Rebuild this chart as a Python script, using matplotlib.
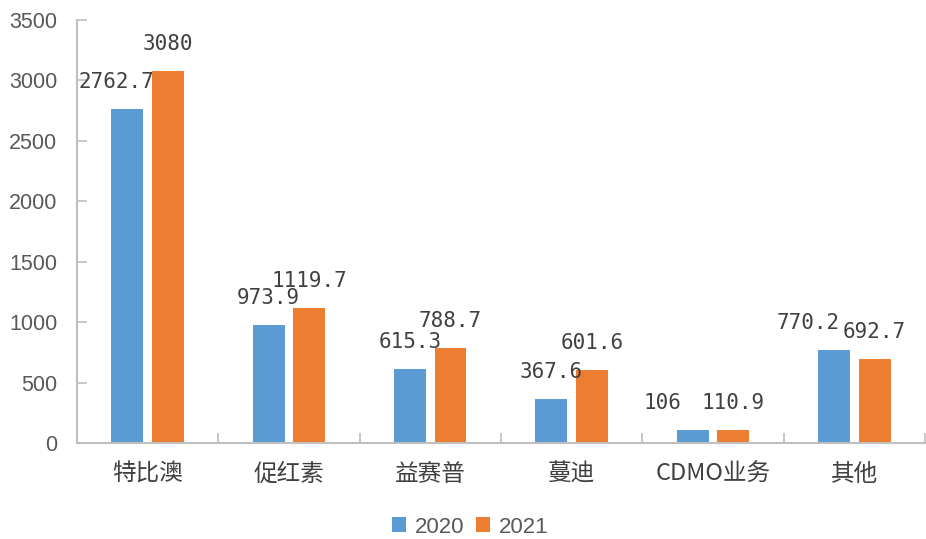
import numpy as np
import matplotlib.pyplot as plt

# data
categories = ['特比澳', '促红素', '益赛普', '蔓迪', 'CDMO业务', '其他']
values_2020 = [2762.7, 973.9, 615.3, 367.6, 106, 770.2]
values_2021 = [3080, 1119.7, 788.7, 601.6, 110.9, 692.7]
series_names = ['2020', '2021']
y_ticks = [0, 500, 1000, 1500, 2000, 2500, 3000, 3500]

# label nudges (points) so overlapping labels sit like the original
shift_2020 = [-8, 0, 0, 0, -22, -19]
shift_2021 = [0, 0, 0, 0, 0, 0]

blue = '#5B9BD5'
orange = '#ED7D31'
axis_gray = '#BFBFBF'
text_gray = '#595959'
label_dark = '#404040'

fig = plt.figure(figsize=(9.26, 5.39), dpi=100)
ax = fig.add_axes([0.083, 0.178, 0.916, 0.785])

x = np.arange(len(categories))
width = 0.226
offset = 0.143

b1 = ax.bar(x - offset, values_2020, width, color=blue, label=series_names[0], zorder=2)
b2 = ax.bar(x + offset, values_2021, width, color=orange, label=series_names[1], zorder=2)

for bars, vals, shifts in [(b1, values_2020, shift_2020), (b2, values_2021, shift_2021)]:
    for rect, v, s in zip(bars, vals, shifts):
        ax.annotate(f'{v:g}', (rect.get_x() + rect.get_width() / 2, rect.get_height()),
                    xytext=(s, 15), textcoords='offset points',
                    ha='center', va='baseline', fontsize=15,
                    family='DejaVu Sans Mono', color=label_dark)

ax.set_xlim(-0.5, len(categories) - 0.5)
ax.set_ylim(0, 3500)
ax.set_yticks(y_ticks)
ax.set_yticklabels([str(t) for t in y_ticks], family='Liberation Sans',
                   fontsize=15.5, color=text_gray)

ax.set_xticks(x)
ax.set_xticklabels(categories, family=['Noto Sans CJK SC', 'DejaVu Sans'],
                   fontsize=17, color=label_dark)
ax.set_xticks(np.arange(len(categories) + 1) - 0.5, minor=True)
ax.tick_params(axis='x', which='major', length=0, pad=14)
ax.tick_params(axis='x', which='minor', direction='in', length=7,
               color=axis_gray, width=1.2)
ax.tick_params(axis='y', direction='in', length=7, color=axis_gray,
               width=1.2, pad=14)

for side in ['top', 'right']:
    ax.spines[side].set_visible(False)
for side in ['left', 'bottom']:
    ax.spines[side].set_color(axis_gray)
    ax.spines[side].set_linewidth(1.5)

fig.legend(loc='center', bbox_to_anchor=(0.508, 0.022), ncol=2, frameon=False,
           prop={'family': 'Liberation Sans', 'size': 16},
           handlelength=0.65, handleheight=0.65, handletextpad=0.4,
           columnspacing=0.5, labelcolor=text_gray)

fig.savefig('out.png', dpi=100)
